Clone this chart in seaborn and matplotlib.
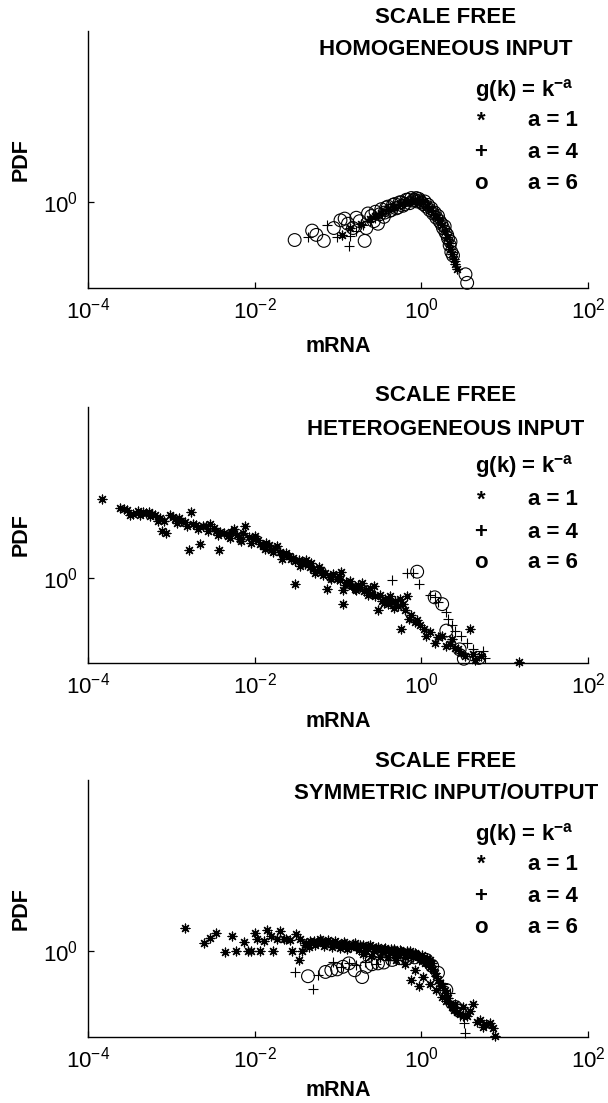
import numpy as np
import matplotlib
matplotlib.use("Agg")
import matplotlib.pyplot as plt
import seaborn as sns

# values, in decades (log10 of mRNA / log10 of PDF)

# --- homogeneous input ---
hom_a1_logx = [-0.95, -0.85, -0.72, -0.62, -0.55, -0.48, -0.40, -0.33, -0.26, -0.20, -0.14, -0.08, -0.03,
               0.02, 0.07, 0.12, 0.17, 0.21, 0.25, 0.28, 0.31, 0.33, 0.35, 0.37, 0.39, 0.41, 0.43]
hom_a1_logy = [-0.38, -0.30, -0.25, -0.20, -0.16, -0.12, -0.08, -0.05, -0.02, 0.00, 0.02, 0.03, 0.02,
               0.00, -0.04, -0.09, -0.15, -0.21, -0.27, -0.33, -0.40, -0.47, -0.54, -0.60, -0.66, -0.72, -0.78]

hom_a4_logx = [-1.36, -1.13, -1.01, -0.87, -0.85, -0.78, -0.70, -0.62, -0.55, -0.47, -0.40, -0.33, -0.26,
               -0.19, -0.12, -0.05, 0.02, 0.08, 0.14, 0.20, 0.25, 0.30, 0.34, 0.37, 0.40]
hom_a4_logy = [-0.41, -0.26, -0.40, -0.51, -0.39, -0.33, -0.27, -0.22, -0.18, -0.13, -0.09, -0.06, -0.03,
               0.00, 0.02, 0.03, 0.01, -0.04, -0.10, -0.18, -0.27, -0.37, -0.48, -0.58, -0.68]

hom_a6_logx = [-1.52, -1.31, -1.26, -1.17, -1.05, -0.97, -0.92, -0.88, -0.82, -0.78, -0.74, -0.68, -0.66,
               -0.64, -0.60, -0.57, -0.55, -0.52, -0.50, -0.48, -0.45, -0.44, -0.42, -0.40, -0.38, -0.36,
               -0.34, -0.32, -0.30, -0.28, -0.26, -0.24, -0.22, -0.20, -0.18, -0.16, -0.14, -0.12, -0.10,
               -0.08, -0.06, -0.05, -0.03, -0.02, 0.00, 0.02, 0.04, 0.06, 0.08, 0.10, 0.12, 0.14, 0.16,
               0.18, 0.20, 0.22, 0.24, 0.26, 0.28, 0.29, 0.31, 0.32, 0.34, 0.35, 0.36, 0.38, 0.53, 0.55]
hom_a6_logy = [-0.44, -0.33, -0.38, -0.45, -0.30, -0.21, -0.19, -0.25, -0.30, -0.18, -0.22, -0.45, -0.30,
               -0.13, -0.16, -0.22, -0.11, -0.25, -0.14, -0.08, -0.17, -0.12, -0.06, -0.05, -0.10, -0.09,
               -0.03, -0.02, -0.07, -0.06, 0.00, 0.00, -0.04, -0.02, 0.03, 0.03, -0.01, 0.05, 0.02,
               0.03, 0.05, 0.01, 0.04, 0.02, 0.00, -0.02, 0.01, -0.05, -0.03, -0.09, -0.07, -0.13, -0.12,
               -0.18, -0.16, -0.22, -0.25, -0.30, -0.28, -0.35, -0.38, -0.42, -0.50, -0.46, -0.58, -0.62, -0.84, -0.94]

# --- heterogeneous input ---
het_a1_logx = [-3.83, -3.61, -3.57, -3.53, -3.46, -3.40, -3.34, -3.30, -3.27, -3.23, -3.20, -3.16, -3.13,
               -3.11, -3.06, -3.02, -2.98, -2.95, -2.91, -2.88, -2.84, -2.79, -2.76, -2.74, -2.70, -2.65,
               -2.62, -2.58, -2.53, -2.49, -2.46, -2.43, -2.41, -2.37, -2.32, -2.28, -2.25, -2.21, -2.18,
               -2.14, -2.11, -2.07, -2.04, -2.00, -1.96, -1.93, -1.90, -1.86, -1.83, -1.80, -1.76, -1.73,
               -1.69, -1.66, -1.62, -1.59, -1.56, -1.52, -1.51, -1.47, -1.43, -1.40, -1.38, -1.34, -1.30,
               -1.27, -1.23, -1.20, -1.16, -1.13, -1.10, -1.06, -1.01, -0.98, -0.96, -0.94, -0.94, -0.90,
               -0.87, -0.83, -0.80, -0.76, -0.73, -0.69, -0.66, -0.62, -0.59, -0.55, -0.52, -0.50, -0.47,
               -0.43, -0.40, -0.36, -0.31, -0.28, -0.24, -0.22, -0.19, -0.17, -0.15, -0.12, -0.08, -0.05,
               -0.01, 0.03, 0.06, 0.11, 0.16, 0.20, 0.25, 0.30, 0.34, 0.37, 0.41, 0.44, 0.48, 0.53,
               0.58, 0.62, 0.65, 0.72, 1.17,
               -3.50, -3.37, -3.25, -3.09, -2.93, -2.81, -2.68, -2.56, -2.44, -2.30, -2.16, -2.02, -1.88,
               -1.78, -1.67, -1.54, -1.45, -1.32, -1.25, -1.18, -1.08, -0.99, -0.92, -0.85, -0.78, -0.71,
               -0.64, -0.57, -0.45, -0.38, -0.33, -0.26]
het_a1_logy = [0.92, 0.82, 0.80, 0.79, 0.75, 0.78, 0.77, 0.76, 0.77, 0.75, 0.73, 0.67, 0.70,
               0.55, 0.52, 0.73, 0.71, 0.69, 0.70, 0.67, 0.65, 0.33, 0.77, 0.63, 0.62, 0.40,
               0.61, 0.60, 0.63, 0.58, 0.55, 0.33, 0.53, 0.52, 0.49, 0.54, 0.57, 0.50, 0.45,
               0.52, 0.61, 0.48, 0.41, 0.49, 0.44, 0.40, 0.37, 0.41, 0.38, 0.33, 0.35, 0.37,
               0.30, 0.27, 0.29, 0.25, 0.22, 0.19, -0.07, 0.21, 0.19, 0.16, 0.21, 0.13, 0.10,
               0.05, 0.12, 0.09, 0.06, -0.13, 0.01, 0.04, -0.01, -0.03, 0.07, -0.15, -0.31, -0.05,
               -0.07, -0.10, -0.13, -0.08, -0.11, -0.16, -0.15, -0.12, -0.19, -0.22, -0.38, -0.20, -0.27,
               -0.25, -0.31, -0.29, -0.27, -0.33, -0.60, -0.31, -0.38, -0.21, -0.48, -0.44, -0.52, -0.50,
               -0.56, -0.60, -0.68, -0.64, -0.76, -0.70, -0.68, -0.80, -0.78, -0.72, -0.82, -0.84, -0.88, -0.92,
               -0.60, -0.90, -0.96, -0.92, -0.99,
               0.74, 0.73, 0.72, 0.66, 0.64, 0.61, 0.57, 0.55, 0.50, 0.46, 0.43, 0.45, 0.34,
               0.30, 0.22, 0.23, 0.14, 0.17, 0.08, 0.03, -0.02, 0.02, -0.09, -0.04, -0.15, -0.06,
               -0.20, -0.10, -0.30, -0.22, -0.35, -0.25]

het_a4_logx = [-0.35, -0.17, -0.10, -0.03, 0.11, 0.16, 0.20, 0.30, 0.32, 0.37, 0.41, 0.48, 0.55, 0.62, 0.69, 0.74, 0.76]
het_a4_logy = [-0.03, 0.06, 0.06, -0.07, -0.20, -0.23, -0.29, -0.40, -0.48, -0.56, -0.62, -0.68, -0.76, -0.84, -0.92, -0.86, -0.94]

het_a6_logx = [-0.05, 0.16, 0.25, 0.30, 0.46, 0.51, 0.69]
het_a6_logy = [0.07, -0.23, -0.31, -0.62, -0.84, -0.95, -0.94]

# --- symmetric input/output ---
sym_a1_logx = [-2.83, -2.61, -2.53, -2.46, -2.35, -2.27, -2.22, -2.13, -2.08, -2.04, -1.99, -1.97, -1.93,
               -1.89, -1.85, -1.80, -1.78, -1.73, -1.69, -1.65, -1.62, -1.58, -1.55, -1.50, -1.47, -1.43,
               -1.38, -1.33, -1.29, -1.24, -1.20, -1.15, -1.10, -1.05, -1.01, -0.96, -0.92, -0.87, -0.82,
               -0.78, -0.73, -0.68, -0.64, -0.59, -0.54, -0.50, -0.45, -0.40, -0.36, -0.31, -0.26, -0.22,
               -0.17, -0.12, -0.08, -0.04, -0.01, 0.03, 0.06, 0.09, 0.11, 0.14, 0.16, 0.18, 0.20, 0.23,
               0.25, 0.28, 0.30, 0.32, 0.34, 0.37, 0.39, 0.43, 0.46, 0.50, 0.55, 0.58, 0.62, 0.67, 0.70,
               0.74, 0.78, 0.83, 0.86, 0.88,
               -0.30, -0.20, -0.12, -0.08, -0.03, 0.02, 0.10, 0.18, 0.25, 0.30, 0.40, 0.50,
               -0.70, -0.60, -0.50, -0.40, -0.30, -0.20,
               -1.45, -1.40, -1.35, -1.27, -1.22, -1.17, -1.12, -1.07, -1.03, -0.98, -0.93, -0.89,
               -0.84, -0.80, -0.75, -0.70, -0.66, -0.61, -0.57, -0.52, -0.47, -0.43, -0.38, -0.33,
               -0.28, -0.24, -0.19, -0.14, -0.10, -0.06, -0.02, 0.01, 0.04, 0.07, 0.10, 0.13]
sym_a1_logy = [0.27, 0.10, 0.16, 0.22, -0.01, 0.18, 0.00, 0.11, 0.00, 0.00, 0.22, 0.14, 0.00,
               0.12, 0.25, 0.18, 0.00, 0.14, 0.24, 0.15, 0.14, 0.13, 0.00, 0.20, -0.10, 0.00,
               0.10, 0.12, 0.12, 0.11, 0.12, 0.10, 0.11, 0.09, 0.10, 0.08, 0.09, 0.07, 0.09,
               0.05, 0.08, 0.04, 0.06, 0.05, 0.04, 0.02, 0.03, 0.01, 0.03, 0.00, 0.02, -0.01,
               0.01, -0.03, -0.02, -0.05, -0.06, -0.09, -0.12, -0.15, -0.18, -0.21, -0.25, -0.29, -0.33, -0.37,
               -0.41, -0.45, -0.49, -0.55, -0.61, -0.65, -0.69, -0.71, -0.73, -0.75, -0.76, -0.70, -0.61, -0.82, -0.80,
               -0.88, -0.85, -0.84, -0.90, -0.99,
               -0.10, -0.15, -0.33, -0.22, -0.41, -0.30, -0.38, -0.45, -0.53, -0.58, -0.62, -0.65,
               -0.03, -0.05, -0.06, -0.07, -0.04, -0.06,
               0.14, 0.08, 0.05, 0.07, 0.14, 0.06, 0.13, 0.05, 0.12, 0.04, 0.11, 0.03,
               0.05, 0.10, 0.02, 0.07, 0.01, 0.08, 0.00, 0.05, -0.01, 0.04, -0.02, 0.03,
               -0.03, 0.01, -0.04, 0.00, -0.06, -0.03, -0.09, -0.04, -0.13, -0.08, -0.10, -0.14]

sym_a4_logx = [-1.52, -1.30, -1.24, -1.06, -0.96, -0.87, -0.78, -0.68, -0.54, -0.40, -0.30, -0.22, -0.12,
               -0.03, 0.08, 0.16, 0.26, 0.34, 0.42, 0.46, 0.51, 0.53]
sym_a4_logy = [-0.24, -0.44, -0.27, -0.12, -0.18, -0.14, -0.16, -0.12, -0.15, -0.10, -0.08, -0.06, -0.08,
               -0.10, -0.17, -0.25, -0.38, -0.49, -0.66, -0.75, -0.84, -0.95]

sym_a6_logx = [-1.36, -1.15, -1.08, -1.01, -0.94, -0.87, -0.80, -0.71, -0.66, -0.59, -0.52, -0.45, -0.35,
               -0.26, -0.17, -0.08, 0.06, 0.13, 0.20, 0.30, 0.41, 0.46]
sym_a6_logy = [-0.29, -0.24, -0.22, -0.21, -0.18, -0.14, -0.22, -0.30, -0.18, -0.15, -0.14, -0.13, -0.10,
               -0.08, -0.08, -0.07, -0.10, -0.17, -0.25, -0.45, -0.65, -0.69]

panel_titles = ["HOMOGENEOUS INPUT", "HETEROGENEOUS INPUT", "SYMMETRIC INPUT/OUTPUT"]
legend_rows = [("*", "a = 1"), ("+", "a = 4"), ("o", "a = 6")]
x_ticks = [1e-4, 1e-2, 1e0, 1e2]

panels = [
    (hom_a1_logx, hom_a1_logy, hom_a4_logx, hom_a4_logy, hom_a6_logx, hom_a6_logy),
    (het_a1_logx, het_a1_logy, het_a4_logx, het_a4_logy, het_a6_logx, het_a6_logy),
    (sym_a1_logx, sym_a1_logy, sym_a4_logx, sym_a4_logy, sym_a6_logx, sym_a6_logy),
]

sns.set_theme(style="white")
plt.rcParams["font.family"] = ["Liberation Sans", "DejaVu Sans"]
plt.rcParams["mathtext.fontset"] = "custom"
plt.rcParams["mathtext.rm"] = "Liberation Sans"
plt.rcParams["mathtext.bf"] = "Liberation Sans:bold"
plt.rcParams["mathtext.default"] = "regular"
plt.rcParams["axes.unicode_minus"] = False
plt.rcParams["text.color"] = "black"
plt.rcParams["axes.labelcolor"] = "black"

fig = plt.figure(figsize=(6.08, 11.03), dpi=100)

# axes boxes (left, bottom, width, height) and text heights per panel
boxes = [(0.1447, 0.7389, 0.8224, 0.2330),
         (0.1447, 0.3989, 0.8224, 0.2321),
         (0.1447, 0.0598, 0.8224, 0.2330)]
text_y = [(1.052, 0.928, 0.770, [0.650, 0.529, 0.405]),
          (1.043, 0.914, 0.766, [0.637, 0.508, 0.391]),
          (1.072, 0.949, 0.790, [0.672, 0.547, 0.427])]
x_labelpads = [9, 9, 5]

asterisk = (8, 2, 0)

for i, (box, data, title) in enumerate(zip(boxes, panels, panel_titles)):
    ax = fig.add_axes(box)
    ax.set_xscale("log")
    ax.set_yscale("log")
    a1x, a1y, a4x, a4y, a6x, a6y = [10 ** np.array(v) for v in data]

    sns.scatterplot(x=a1x, y=a1y, marker=asterisk, s=40, color="black",
                    linewidth=0.9, ax=ax, clip_on=False)
    sns.scatterplot(x=a4x, y=a4y, marker="+", s=60, color="black",
                    linewidth=0.8, ax=ax, clip_on=False)
    sns.scatterplot(x=a6x, y=a6y, marker="o", s=85, facecolors="none",
                    edgecolor="black", linewidth=0.8, ax=ax, clip_on=False)

    ax.set_xlim(1e-4, 1e2)
    ax.set_ylim(1e-1, 1e2)
    ax.set_xticks(x_ticks)
    ax.set_yticks([1e0])
    ax.minorticks_off()
    ax.tick_params(axis="both", direction="in", length=4, width=0.9,
                   labelsize=16, colors="black", pad=7)
    ax.tick_params(bottom=True, left=True, top=False, right=False)
    for side in ["top", "right"]:
        ax.spines[side].set_visible(False)
    for side in ["left", "bottom"]:
        ax.spines[side].set_color("black")
        ax.spines[side].set_linewidth(1.0)

    ax.set_xlabel("mRNA", fontsize=15.5, fontweight="bold", labelpad=x_labelpads[i])
    ax.set_ylabel("PDF", fontsize=15.5, fontweight="bold", labelpad=8)

    y_sf, y_title, y_g, y_rows = text_y[i]
    ax.text(0.716, y_sf, "SCALE FREE", transform=ax.transAxes, ha="center",
            va="center", fontsize=16, fontweight="bold", clip_on=False)
    ax.text(0.716, y_title, title, transform=ax.transAxes, ha="center",
            va="center", fontsize=16, fontweight="bold")
    ax.text(0.872, y_g, r"g(k) = k$^{\mathbf{-a}}$", transform=ax.transAxes,
            ha="center", va="center", fontsize=16, fontweight="bold")
    for (sym, lab), yy in zip(legend_rows, y_rows):
        ax.text(0.786, yy, sym, transform=ax.transAxes, ha="center",
                va="center", fontsize=16, fontweight="bold")
        ax.text(0.93, yy, lab, transform=ax.transAxes, ha="center",
                va="center", fontsize=16, fontweight="bold")

fig.savefig("out.png", dpi=100)
